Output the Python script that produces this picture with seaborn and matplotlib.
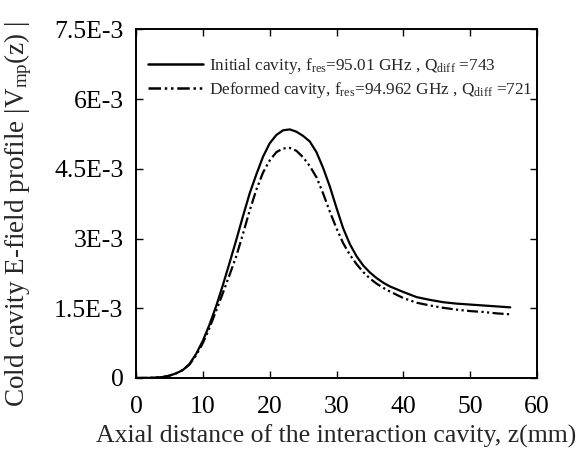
import numpy as np
import pandas as pd
import matplotlib
matplotlib.use("Agg")
import matplotlib.pyplot as plt
import seaborn as sns

z = [0, 2, 4, 5, 6, 7, 8, 9, 10, 11, 12, 13, 14, 15, 16, 17, 18, 19, 20, 21, 22, 23,
     24, 25, 26, 27, 28, 29, 30, 31, 32, 33, 34, 35, 36, 37, 38, 40, 42, 44, 46, 48, 50,
     52, 54, 56]
initial = [0, 0.003, 0.02, 0.05, 0.10, 0.17, 0.30, 0.52, 0.80, 1.15, 1.55, 2.00, 2.48,
           2.97, 3.48, 3.97, 4.38, 4.76, 5.05, 5.23, 5.33, 5.35, 5.30, 5.21, 5.09, 4.86,
           4.52, 4.12, 3.66, 3.22, 2.88, 2.62, 2.42, 2.27, 2.15, 2.05, 1.97, 1.85, 1.74,
           1.68, 1.63, 1.60, 1.58, 1.56, 1.54, 1.52]
deformed = [0, 0.003, 0.02, 0.05, 0.10, 0.17, 0.29, 0.49, 0.75, 1.08, 1.45, 1.83, 2.22,
            2.62, 3.10, 3.60, 4.05, 4.42, 4.68, 4.86, 4.94, 4.95, 4.89, 4.75, 4.56, 4.32,
            3.97, 3.58, 3.22, 2.90, 2.65, 2.45, 2.28, 2.14, 2.03, 1.94, 1.86, 1.72, 1.62,
            1.56, 1.51, 1.47, 1.44, 1.42, 1.39, 1.37]
ytick_vals = [0, 1.5e-3, 3e-3, 4.5e-3, 6e-3, 7.5e-3]
ytick_labels = ["0", "1.5E-3", "3E-3", "4.5E-3", "6E-3", "7.5E-3"]
xtick_vals = [0, 10, 20, 30, 40, 50, 60]
label_initial = r"Initial cavity, f$_{\rm res}$=95.01 GHz , Q$_{\rm diff}$ =743"
label_deformed = r"Deformed cavity, f$_{\rm res}$=94.962 GHz , Q$_{\rm diff}$ =721"

sns.set_style("ticks")
plt.rcParams["font.family"] = ["Liberation Serif", "DejaVu Serif"]
plt.rcParams["mathtext.fontset"] = "custom"
plt.rcParams["mathtext.rm"] = "Liberation Serif"
plt.rcParams["mathtext.it"] = "Liberation Serif:italic"

fig = plt.figure(figsize=(5.82, 4.53), dpi=100)
ax = fig.add_axes([0.2337, 0.1656, 0.689, 0.7693])

sns.lineplot(x=z, y=np.array(initial) * 1e-3, ax=ax, color="black", lw=1.6,
             label=label_initial)
sns.lineplot(x=z, y=np.array(deformed) * 1e-3, ax=ax, color="black", lw=1.6,
             label=label_deformed)
ax.lines[1].set_linestyle((0, (5, 1.5, 1, 1.5, 1, 1.5)))

ax.set_xlim(0, 60)
ax.set_ylim(0, 7.5e-3)
ax.set_xticks(xtick_vals)
ax.set_yticks(ytick_vals)
ax.set_yticklabels(ytick_labels)
ax.tick_params(direction="in", length=5, width=1, top=True, right=True,
               labelsize=18.5, colors="black")
ax.tick_params(axis="x", pad=13)
ax.tick_params(axis="y", pad=9)
for s in ax.spines.values():
    s.set_visible(True)
    s.set_linewidth(1.4)
    s.set_color("black")

ax.set_xlabel("Axial distance of the interaction cavity, z(mm)", fontsize=18.5, labelpad=5)
ax.set_ylabel(r"Cold cavity E-field profile |V$_{\rm mp}$(z) |", fontsize=19.5)
ax.yaxis.set_label_coords(-0.255, 0.47)

leg = ax.legend(loc="upper left", bbox_to_anchor=(0.0, 0.958), frameon=False,
                fontsize=12.4, handlelength=3.2, handletextpad=0.35,
                labelspacing=0.22, borderaxespad=0.3)
for h in leg.get_lines():
    h.set_linewidth(1.8)

fig.savefig("out.png", dpi=100)
